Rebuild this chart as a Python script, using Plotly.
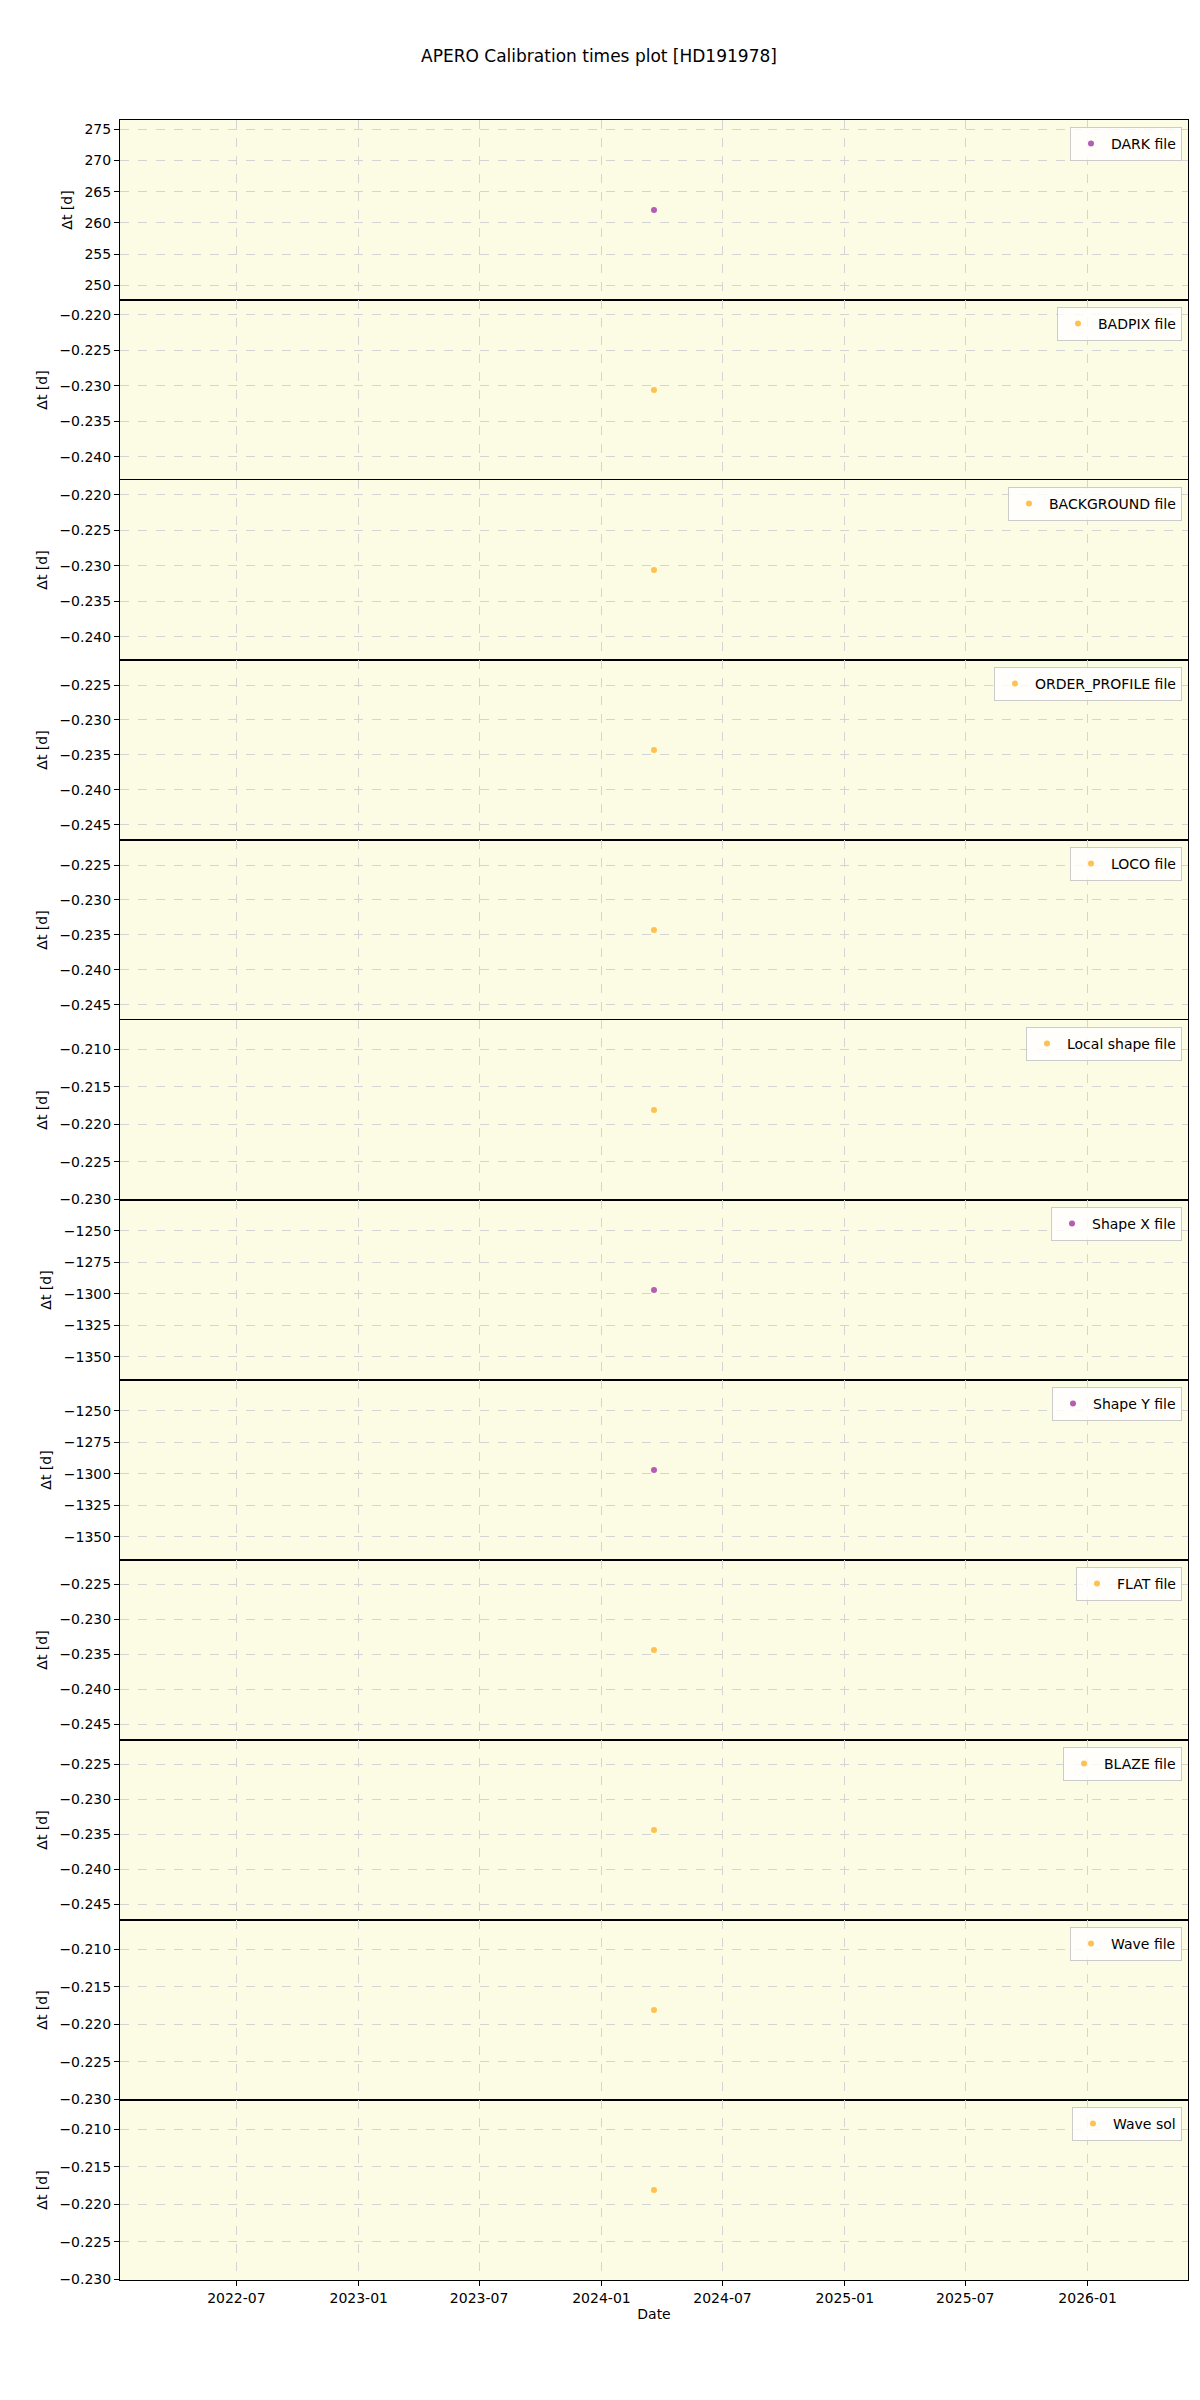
import plotly.graph_objects as go
from plotly.subplots import make_subplots

# ---- data ----
file_labels = ["DARK file", "BADPIX file", "BACKGROUND file", "ORDER_PROFILE file",
               "LOCO file", "Local shape file", "Shape X file", "Shape Y file",
               "FLAT file", "BLAZE file", "Wave file", "Wave sol"]
obs_dates = ["2024-03-20", "2024-03-20", "2024-03-20", "2024-03-20",
             "2024-03-20", "2024-03-20", "2024-03-20", "2024-03-20",
             "2024-03-20", "2024-03-20", "2024-03-20", "2024-03-20"]
dt_values = [262.06, -0.2306, -0.2306, -0.2343, -0.2343, -0.2181,
             -1297.0, -1297.0, -0.2344, -0.2344, -0.2181, -0.2181]
point_group = ["purple", "orange", "orange", "orange", "orange", "orange",
               "purple", "purple", "orange", "orange", "orange", "orange"]
x_tick_vals = ["2022-07-01", "2023-01-01", "2023-07-01", "2024-01-01",
               "2024-07-01", "2025-01-01", "2025-07-01", "2026-01-01"]
x_tick_text = ["2022-07", "2023-01", "2023-07", "2024-01",
               "2024-07", "2025-01", "2025-07", "2026-01"]

# ---- styles ----
COLORS = {"purple": "#b55cb5", "orange": "#ffc24f"}
BG = "#fcfbe3"
GRID = "#d4d4d4"
FONT = "DejaVu Sans"
FS = 14

n = len(file_labels)
OFF = 8  # browser page margin
W, H = 1200 - OFF, 2400 - OFF
ML, MR, MT, MB = 120 - OFF, 12, 120 - OFF, 120
plot_h = H - MT - MB
plot_w = W - ML - MR
panel_h = plot_h / n

fig = make_subplots(rows=n, cols=1, shared_xaxes=True, vertical_spacing=0)

for i in range(n):
    leg = "legend" if i == 0 else f"legend{i + 1}"
    fig.add_trace(go.Scatter(
        x=[obs_dates[i]], y=[dt_values[i]], mode="markers",
        name=file_labels[i],
        marker=dict(color=COLORS[point_group[i]], size=6, line=dict(width=0)),
        legend=leg, showlegend=True,
    ), row=i + 1, col=1)

    v = dt_values[i]
    half = 0.055 * abs(v)
    if abs(v) > 1000:
        dtick, fmt = 25, "d"
    elif abs(v) > 10:
        dtick, fmt = 5, "d"
    else:
        dtick, fmt = 0.005, ".3f"
    fig.update_yaxes(
        range=[v - half, v + half], dtick=dtick, tickformat=fmt,
        title=dict(text="Δt [d]", font=dict(size=FS, color="black", family=FONT), standoff=8),
        showgrid=True, gridcolor=GRID, griddash="dash", gridwidth=1,
        zeroline=False, showline=True, linecolor="black", linewidth=1, mirror=True,
        ticks="outside", ticklen=5, tickcolor="black",
        tickfont=dict(size=FS, color="black", family=FONT),
        automargin=False,
        row=i + 1, col=1)

    last = (i == n - 1)
    fig.update_xaxes(
        type="date", range=["2022-01-07", "2026-06-01"],
        tickvals=x_tick_vals, ticktext=x_tick_text,
        showgrid=True, gridcolor=GRID, griddash="dash", gridwidth=1,
        zeroline=False, showline=True, linecolor="black", linewidth=1, mirror=True,
        ticks="outside" if last else "", ticklen=5, tickcolor="black",
        showticklabels=last,
        tickfont=dict(size=FS, color="black", family=FONT),
        automargin=False,
        row=i + 1, col=1)

    top_px = panel_h * i + 7
    fig.update_layout({leg: dict(
        x=(1182 - 120) / plot_w, y=1 - top_px / plot_h,
        xanchor="right", yanchor="top",
        bgcolor="rgba(255,255,255,0.8)", bordercolor="#cccccc", borderwidth=1,
        font=dict(size=FS, color="black", family=FONT),
        itemwidth=30, tracegroupgap=0,
    )})

fig.update_xaxes(title=dict(text="Date", font=dict(size=FS, color="black", family=FONT), standoff=4),
                 row=n, col=1)

fig.update_layout(
    width=W, height=H,
    margin=dict(l=ML, r=MR, t=MT, b=MB, autoexpand=False),
    paper_bgcolor="white", plot_bgcolor=BG,
    font=dict(family=FONT, color="black"),
    title=dict(text="APERO Calibration times plot [HD191978]",
               x=(599 - OFF) / W, xanchor="center", y=1 - (56 - OFF) / H, yanchor="middle",
               font=dict(size=17, color="black", family=FONT)),
)

fig.write_html("out.html")
